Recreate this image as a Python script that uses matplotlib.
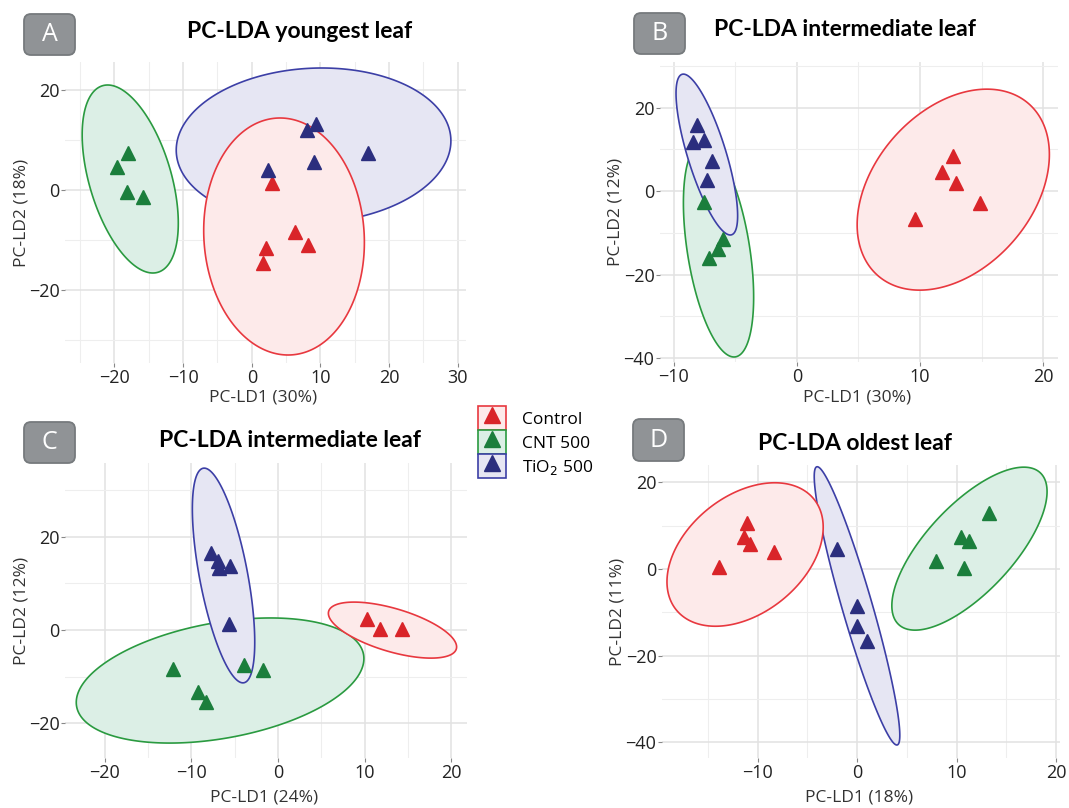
import numpy as np
import matplotlib
matplotlib.use("Agg")
from matplotlib import pyplot as plt
from matplotlib.patches import Patch, FancyBboxPatch
from matplotlib.lines import Line2D
from matplotlib.legend_handler import HandlerTuple

plt.rcParams['font.family'] = ['Open Sans', 'DejaVu Sans']

groups = ["Control", "CNT 500", "TiO$_2$ 500"]
point_colors = {"Control": "#d92429", "CNT 500": "#1b7e3c", "TiO$_2$ 500": "#2b2e7e"}
edge_colors = {"Control": "#e8383f", "CNT 500": "#2a9a40", "TiO$_2$ 500": "#3c3fa6"}
fill_colors = {"Control": "#fdeaea", "CNT 500": "#dcefe6", "TiO$_2$ 500": "#e6e6f3"}

# scores per leaf: (LD1, LD2) for each group
a_control = [(3.0, 1.4), (6.3, -8.4), (8.2, -11.0), (2.0, -11.6), (1.7, -14.6)]
a_cnt = [(-19.6, 4.6), (-18.0, 7.4), (-18.1, -0.3), (-15.8, -1.3)]
a_tio2 = [(2.3, 4.0), (8.0, 12.0), (9.3, 13.2), (9.1, 5.6), (16.9, 7.4)]

b_control = [(12.7, 8.4), (11.8, 4.5), (12.9, 1.9), (14.9, -2.9), (9.6, -6.7)]
b_cnt = [(-7.5, -2.6), (-6.0, -11.5), (-6.4, -13.9), (-7.1, -16.1)]
b_tio2 = [(-8.1, 15.8), (-8.4, 11.7), (-7.5, 12.2), (-6.9, 7.2), (-7.3, 2.6)]

c_control = [(10.3, 2.4), (11.8, 0.2), (14.3, 0.2)]
c_cnt = [(-12.1, -8.4), (-3.9, -7.5), (-1.7, -8.6), (-9.2, -13.3), (-8.3, -15.4)]
c_tio2 = [(-7.7, 16.5), (-6.9, 14.8), (-6.8, 13.3), (-5.5, 13.8), (-5.7, 1.3)]

d_control = [(-11.1, 10.6), (-11.4, 7.4), (-10.8, 5.8), (-8.3, 4.0), (-13.9, 0.5)]
d_cnt = [(13.3, 12.9), (10.5, 7.4), (11.3, 6.5), (7.9, 1.8), (10.8, 0.2)]
d_tio2 = [(-2.0, 4.6), (0.0, -8.5), (0.0, -13.1), (1.0, -16.6)]

# ellipses: centre x, centre y, half width, half height, tilt (x offset of top point / half width)
a_ell = {"Control": (4.7, -9.3, 11.7, 23.7, -0.05),
         "CNT 500": (-17.7, 2.2, 7.0, 18.8, -0.47),
         "TiO$_2$ 500": (9.0, 8.9, 20.0, 15.5, 0.06)}
b_ell = {"Control": (12.7, 0.35, 7.8, 24.05, 0.35),
         "CNT 500": (-6.35, -14.1, 2.85, 25.6, -0.44),
         "TiO$_2$ 500": (-7.3, 8.75, 2.5, 19.25, -0.76)}
c_ell = {"Control": (13.2, 0.0, 7.4, 6.0, -0.6),
         "CNT 500": (-6.7, -10.8, 16.6, 13.4, 0.35),
         "TiO$_2$ 500": (-6.3, 11.7, 3.6, 23.0, -0.62)}
d_ell = {"Control": (-11.25, 3.35, 7.85, 16.55, 0.38),
         "CNT 500": (11.3, 4.7, 7.8, 18.8, 0.7),
         "TiO$_2$ 500": (0.0, -8.5, 4.3, 32.1, -0.93)}

panels = [
    dict(letter="A", title="PC-LDA youngest leaf", xlab="PC-LD1 (30%)", ylab="PC-LD2 (18%)",
         pts=[a_control, a_cnt, a_tio2], ell=a_ell,
         xlim=(-27.2, 31.2), ylim=(-34.6, 25.6),
         xt=[-20, -10, 0, 10, 20, 30], yt=[-20, 0, 20]),
    dict(letter="B", title="PC-LDA intermediate leaf", xlab="PC-LD1 (30%)", ylab="PC-LD2 (12%)",
         pts=[b_control, b_cnt, b_tio2], ell=b_ell,
         xlim=(-11.1, 21.2), ylim=(-40.9, 30.9),
         xt=[-10, 0, 10, 20], yt=[-40, -20, 0, 20]),
    dict(letter="C", title="PC-LDA intermediate leaf", xlab="PC-LD1 (24%)", ylab="PC-LD2 (12%)",
         pts=[c_control, c_cnt, c_tio2], ell=c_ell,
         xlim=(-24.6, 21.8), ylim=(-27.4, 35.8),
         xt=[-20, -10, 0, 10, 20], yt=[-20, 0, 20]),
    dict(letter="D", title="PC-LDA oldest leaf", xlab="PC-LD1 (18%)", ylab="PC-LD2 (11%)",
         pts=[d_control, d_cnt, d_tio2], ell=d_ell,
         xlim=(-19.6, 20.4), ylim=(-43.6, 24.0),
         xt=[-10, 0, 10, 20], yt=[-40, -20, 0, 20]),
]

W, H = 1069, 808
boxes = [(65, 62, 466, 363), (660, 62, 1058, 362), (65, 463, 467, 758), (662, 465, 1060, 758)]
title_pos = [(300, 32), (845, 30), (290, 440), (855, 443)]
# panel letter tags: left, top, right, bottom in pixels
letter_box = [(24, 14, 75, 55), (634, 13, 685, 54), (24, 422, 75, 463), (633, 419, 684, 461)]
xlab_y = [398, 398, 797, 797]
ylab_x = [22, 616, 22, 618]


def ellipse_xy(cx, cy, a, b, r, n=300):
    t = np.linspace(0, 2 * np.pi, n)
    phi = np.arccos(r)
    return cx + a * np.cos(t), cy + b * np.cos(t - phi)


def minor_between(ticks, lim):
    step = ticks[1] - ticks[0]
    m = np.arange(ticks[0] - step / 2, ticks[-1] + step, step)
    return [v for v in m if lim[0] <= v <= lim[1]]


fig = plt.figure(figsize=(W / 100, H / 100), dpi=100)

for p, (l, t, r, b), tp, lb, xly, ylx in zip(panels, boxes, title_pos, letter_box, xlab_y, ylab_x):
    ax = fig.add_axes([l / W, 1 - b / H, (r - l) / W, (b - t) / H])
    ax.set_xlim(p["xlim"])
    ax.set_ylim(p["ylim"])
    for s in ax.spines.values():
        s.set_visible(False)
    ax.set_xticks(p["xt"])
    ax.set_yticks(p["yt"])
    ax.set_xticks(minor_between(p["xt"], p["xlim"]), minor=True)
    ax.set_yticks(minor_between(p["yt"], p["ylim"]), minor=True)
    ax.grid(True, which="major", color="#e2e2e2", lw=1.1)
    ax.grid(True, which="minor", color="#eeeeee", lw=0.8)
    ax.tick_params(which="major", length=3, color="#888888", labelsize=13,
                   labelcolor="#222222", pad=1)
    ax.tick_params(which="minor", length=0)
    ax.set_axisbelow(True)

    # ellipses under points; control drawn last
    for g in ["CNT 500", "TiO$_2$ 500", "Control"]:
        ex, ey = ellipse_xy(*p["ell"][g])
        ax.fill(ex, ey, facecolor=fill_colors[g], edgecolor=edge_colors[g], lw=1.2, zorder=2)
    for g, pts in zip(groups, p["pts"]):
        xs, ys = zip(*pts)
        ax.plot(xs, ys, ls="none", marker="^", ms=10, color=point_colors[g], zorder=3)

    # grey letter tag
    bl, bt, br, bb = lb
    tag = FancyBboxPatch((bl + 5, H - bb + 5), br - bl - 10, bb - bt - 10,
                         boxstyle="round,pad=5,rounding_size=7", transform=None,
                         fc="#909396", ec="#767a7d", lw=1.3)
    fig.patches.append(tag)
    fig.text((bl + br) / 2 / W, 1 - (bt + bb) / 2 / H, p["letter"], ha="center",
             va="center", fontsize=18, color="white")

    fig.text(tp[0] / W, 1 - tp[1] / H, p["title"], ha="center", va="center",
             fontsize=16.5, fontweight="bold", family=["Lato", "DejaVu Sans"])
    fig.text(((l + r) / 2 - 2) / W, 1 - xly / H, p["xlab"], ha="center", va="center",
             fontsize=12.5, color="#333333")
    fig.text(ylx / W, 1 - (t + b) / 2 / H, p["ylab"], ha="center", va="center",
             rotation=90, fontsize=12.5, color="#333333")

handles = [(Patch(facecolor=fill_colors[g], edgecolor=edge_colors[g], lw=1.2),
            Line2D([], [], ls="none", marker="^", ms=12, color=point_colors[g]))
           for g in groups]
fig.legend(handles, groups, handler_map={tuple: HandlerTuple(ndivide=1)},
           loc="upper left", bbox_to_anchor=(466 / W, 1 - 394 / H), frameon=False,
           handlelength=1.6, handleheight=1.75, labelspacing=0.0, handletextpad=0.9,
           fontsize=12.5, borderaxespad=0.3)

fig.savefig("out.png", dpi=100, facecolor="white")
